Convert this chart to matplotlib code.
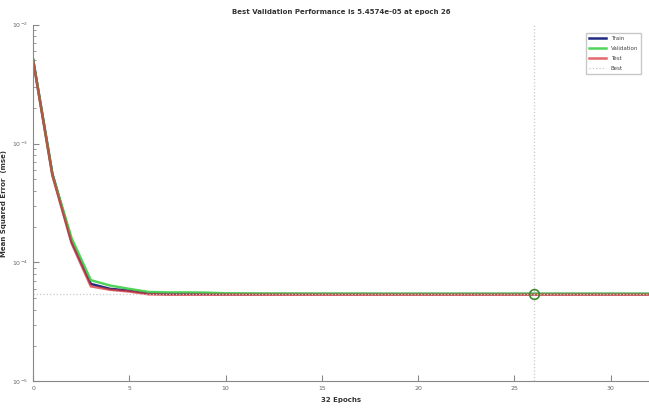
import matplotlib
matplotlib.use("Agg")
import matplotlib.pyplot as plt

# Per-epoch MSE values (epochs 0..32)
epochs = list(range(33))
train = [5.1e-3, 5.6e-4, 1.5e-4, 6.6e-5, 6.0e-5, 5.8e-5, 5.5e-5, 5.45e-5, 5.45e-5, 5.44e-5,
         5.43e-5, 5.43e-5, 5.43e-5, 5.43e-5, 5.43e-5, 5.43e-5, 5.43e-5, 5.43e-5, 5.43e-5, 5.43e-5,
         5.43e-5, 5.43e-5, 5.43e-5, 5.43e-5, 5.43e-5, 5.43e-5, 5.43e-5, 5.43e-5, 5.43e-5, 5.43e-5,
         5.43e-5, 5.43e-5, 5.43e-5]
val = [5.1e-3, 5.5e-4, 1.6e-4, 7.1e-5, 6.4e-5, 6.0e-5, 5.65e-5, 5.6e-5, 5.6e-5, 5.58e-5,
       5.5e-5, 5.49e-5, 5.48e-5, 5.48e-5, 5.47e-5, 5.47e-5, 5.47e-5, 5.47e-5, 5.46e-5, 5.46e-5,
       5.46e-5, 5.46e-5, 5.46e-5, 5.46e-5, 5.46e-5, 5.46e-5, 5.4574e-5, 5.46e-5, 5.46e-5, 5.46e-5,
       5.46e-5, 5.46e-5, 5.46e-5]
test = [5.0e-3, 5.4e-4, 1.45e-4, 6.3e-5, 5.9e-5, 5.7e-5, 5.4e-5, 5.36e-5, 5.36e-5, 5.36e-5,
        5.36e-5, 5.36e-5, 5.36e-5, 5.36e-5, 5.36e-5, 5.36e-5, 5.36e-5, 5.36e-5, 5.36e-5, 5.36e-5,
        5.36e-5, 5.36e-5, 5.36e-5, 5.36e-5, 5.36e-5, 5.36e-5, 5.36e-5, 5.36e-5, 5.36e-5, 5.36e-5,
        5.36e-5, 5.36e-5, 5.36e-5]
best_epoch = 26
best_perf = 5.4574e-5

fig = plt.figure(figsize=(6.49, 4.11), dpi=100)
ax = fig.add_axes([0.051, 0.072, 0.949, 0.868])

ax.plot(epochs, train, color='#1f2a80', lw=1.8, label='Train')
ax.plot(epochs, val, color='#3fcf4a', lw=1.8, label='Validation', alpha=0.9)
ax.plot(epochs, test, color='#d8363b', lw=1.8, label='Test', alpha=0.75)
ax.axhline(best_perf, color='#c8c8c8', lw=0.9, ls=':', label='Best')
ax.axvline(best_epoch, color='#c8c8c8', lw=0.9, ls=':')
ax.plot([best_epoch], [best_perf], 'o', mfc='none', mec='#3a8a2a', ms=7, mew=1.2)

ax.set_yscale('log')
ax.set_ylim(1e-5, 1e-2)
ax.set_xlim(0, 32)
ax.set_xticks([0, 5, 10, 15, 20, 25, 30])
ax.tick_params(which='both', direction='in', labelsize=4.5, colors='#888888',
               labelcolor='#666666')
ax.tick_params(which='major', length=4)
ax.tick_params(which='minor', length=2)
for s in ['top', 'right']:
    ax.spines[s].set_visible(False)
for s in ['left', 'bottom']:
    ax.spines[s].set_color('#888888')

ax.set_title('Best Validation Performance is 5.4574e-05 at epoch 26',
             fontsize=5, fontweight='bold', color='#333333', pad=8)
ax.set_xlabel('32 Epochs', fontsize=5, fontweight='bold', color='#333333', labelpad=4)
ax.set_ylabel('Mean Squared Error  (mse)', fontsize=5, fontweight='bold', color='#333333',
              labelpad=4)

leg = ax.legend(loc='upper right', fontsize=4, frameon=True, fancybox=False,
                edgecolor='#bbbbbb', handlelength=3, borderpad=0.6, labelspacing=0.9,
                bbox_to_anchor=(0.992, 0.985))
for t in leg.get_texts():
    t.set_color('#444444')

fig.savefig('out.png', dpi=100)
